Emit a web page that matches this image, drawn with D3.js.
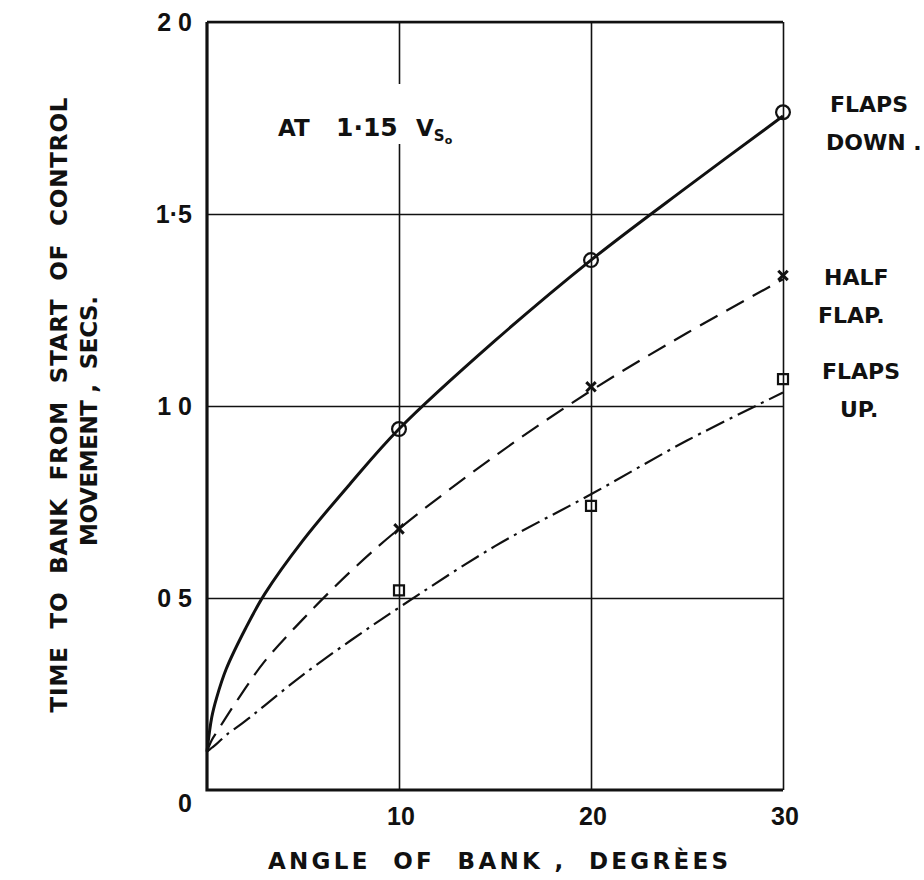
<!DOCTYPE html>
<html>
<head>
<meta charset="utf-8">
<script src="https://cdn.jsdelivr.net/npm/d3@7"></script>
<style>
  body { margin: 0; background: #fff; }
  svg text { font-family: 'DejaVu Sans', sans-serif; font-weight: bold; fill: #111; white-space: pre; }
  svg text.num { font-family: 'Liberation Sans', Arial, sans-serif; }
</style>
</head>
<body>
<div id="container"></div>
<script>
// values
const curveAngles = [0, 0.25, 0.5, 1, 2, 3, 5, 7.5, 10, 15, 20, 25, 30];
const flapsDownCurve = [0.10, 0.19, 0.24, 0.315, 0.42, 0.51, 0.65, 0.80, 0.94, 1.17, 1.38, 1.57, 1.755];
const halfFlapCurve = [0.10, 0.13, 0.15, 0.19, 0.265, 0.335, 0.445, 0.57, 0.68, 0.87, 1.04, 1.19, 1.33];
const flapsUpCurve = [0.10, 0.11, 0.12, 0.143, 0.18, 0.22, 0.30, 0.39, 0.475, 0.635, 0.77, 0.91, 1.035];

const pointAngles = [10, 20, 30];
const flapsDownPts = [0.94, 1.38, 1.765];
const halfFlapPts = [0.68, 1.05, 1.34];
const flapsUpPts = [0.52, 0.74, 1.07];

const xTicks = [10, 20, 30];
const yTicks = [0.5, 1, 1.5, 2];
const yTickLabels = ['0 5', '1 0', '1·5', '2 0'];

const width = 924;
const height = 880;

const x = d3.scaleLinear().domain([0, 30]).range([207, 783]);
const y = d3.scaleLinear().domain([0, 2]).range([790, 22]);

const svg = d3
  .select('#container')
  .append('svg')
  .attr('width', width)
  .attr('height', height);

// grid lines
svg.append('g')
  .attr('transform', `translate(0,${y(0)})`)
  .call(d3.axisBottom(x).tickValues(xTicks).tickSize(-(y(0) - y(2))).tickFormat(''))
  .call(g => g.select('.domain').remove())
  .call(g => g.selectAll('line').attr('stroke', '#111').attr('stroke-width', 1.6));

svg.append('g')
  .attr('transform', `translate(${x(0)},0)`)
  .call(d3.axisLeft(y).tickValues(yTicks).tickSize(-(x(30) - x(0))).tickFormat(''))
  .call(g => g.select('.domain').remove())
  .call(g => g.selectAll('line').attr('stroke', '#111').attr('stroke-width', 1.6));

// top border a bit heavier
svg.append('line')
  .attr('x1', x(0)).attr('x2', x(30))
  .attr('y1', y(2)).attr('y2', y(2))
  .attr('stroke', '#111').attr('stroke-width', 2.6);

// break in the grid behind the note
svg.append('rect')
  .attr('x', 270).attr('y', 84)
  .attr('width', 200).attr('height', 60)
  .attr('fill', '#fff');

// heavy left and bottom axes
svg.append('path')
  .attr('d', `M${x(0)},${y(2)}V${y(0)}H${x(30)}`)
  .attr('fill', 'none')
  .attr('stroke', '#111')
  .attr('stroke-width', 3.2);

// tick labels
svg.append('g')
  .selectAll('text')
  .data(yTicks)
  .enter()
  .append('text')
  .attr('class', 'num')
  .attr('x', 192)
  .attr('y', d => y(d) + 9)
  .attr('text-anchor', 'end')
  .attr('font-size', '25px')
  .text((d, i) => yTickLabels[i]);

svg.append('text')
  .attr('class', 'num')
  .attr('x', 192).attr('y', y(0) + 22)
  .attr('text-anchor', 'end')
  .attr('font-size', '25px')
  .text('0');

svg.append('g')
  .selectAll('text')
  .data(xTicks)
  .enter()
  .append('text')
  .attr('class', 'num')
  .attr('x', d => x(d) + 2)
  .attr('y', y(0) + 35)
  .attr('text-anchor', 'middle')
  .attr('font-size', '25px')
  .text(d => d);

// axis titles
svg.append('text')
  .attr('x', 268).attr('y', 869)
  .attr('font-size', '23px')
  .attr('textLength', 460)
  .attr('lengthAdjust', 'spacing')
  .text('ANGLE  OF  BANK ,  DEGRÈES');

svg.append('text')
  .attr('transform', 'translate(67,405) rotate(-90)')
  .attr('text-anchor', 'middle')
  .attr('font-size', '23px')
  .attr('textLength', 615)
  .attr('lengthAdjust', 'spacing')
  .text('TIME  TO  BANK  FROM  START  OF  CONTROL');

svg.append('text')
  .attr('transform', 'translate(97,421) rotate(-90)')
  .attr('text-anchor', 'middle')
  .attr('font-size', '23px')
  .attr('textLength', 250)
  .attr('lengthAdjust', 'spacing')
  .text('MOVEMENT ,  SECS.');

// curves
const line = d3
  .line()
  .x(d => x(d[0]))
  .y(d => y(d[1]))
  .curve(d3.curveCatmullRom.alpha(0.5));

const series = [
  { curve: flapsDownCurve, pts: flapsDownPts, dash: null, width: 3, symbol: d3.symbolCircle, size: 150, sw: 2.2 },
  { curve: halfFlapCurve, pts: halfFlapPts, dash: '20,10', width: 2.2, symbol: d3.symbolTimes, size: 60, sw: 3 },
  { curve: flapsUpCurve, pts: flapsUpPts, dash: '20,6,3,6', width: 2.2, symbol: d3.symbolSquare, size: 100, sw: 2.2 },
];

series.forEach(s => {
  svg.append('path')
    .datum(curveAngles.map((a, i) => [a, s.curve[i]]))
    .attr('d', line)
    .attr('fill', 'none')
    .attr('stroke', '#111')
    .attr('stroke-width', s.width)
    .attr('stroke-dasharray', s.dash);

  svg.append('g')
    .selectAll('path')
    .data(pointAngles.map((a, i) => [a, s.pts[i]]))
    .enter()
    .append('path')
    .attr('transform', d => `translate(${x(d[0])},${y(d[1])})`)
    .attr('d', d3.symbol().type(s.symbol).size(s.size))
    .attr('fill', 'none')
    .attr('stroke', '#111')
    .attr('stroke-width', s.sw);
});

// note
const note = svg.append('text')
  .attr('y', 136)
  .attr('font-size', '23px');
note.append('tspan').attr('x', 278).text('AT');
note.append('tspan').attr('class', 'num').attr('x', 336).attr('font-size', '25px').text('1·15');
note.append('tspan').attr('x', 416).text('V');
note.append('tspan').attr('font-size', '15px').attr('dy', 5).text('S');
note.append('tspan').attr('font-size', '11px').attr('dy', 3).text('o');

// series labels
const labels = [
  { lines: ['FLAPS', 'DOWN .'], xs: [830, 826], y: 112 },
  { lines: ['HALF', 'FLAP.'], xs: [824, 818], y: 285 },
  { lines: ['FLAPS', 'UP.'], xs: [822, 840], y: 379 },
];

labels.forEach(l => {
  l.lines.forEach((t, i) => {
    svg.append('text')
      .attr('x', l.xs[i])
      .attr('y', l.y + i * 38)
      .attr('font-size', '22px')
      .text(t);
  });
});
</script>
</body>
</html>
